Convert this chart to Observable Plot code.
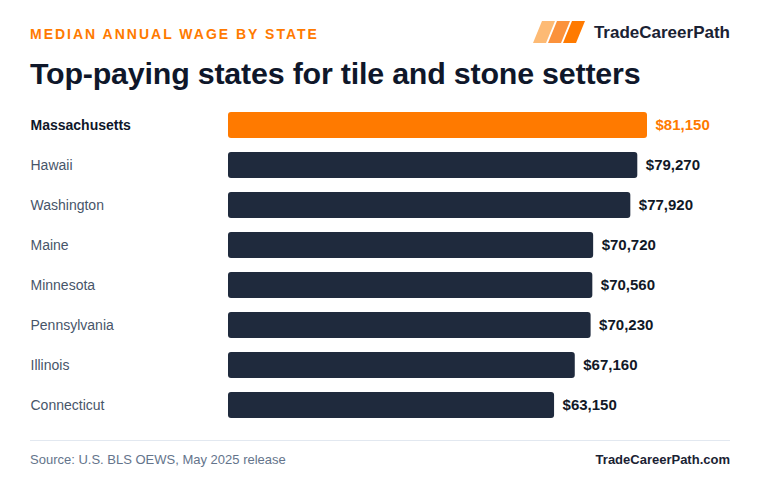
<!DOCTYPE html>
<html>
<head>
<meta charset="utf-8">
<script src="https://cdn.jsdelivr.net/npm/d3@7"></script>
<script src="https://cdn.jsdelivr.net/npm/@observablehq/plot@0.6"></script>
<style>
  html, body { margin: 0; padding: 0; background: #ffffff; }
  body { width: 760px; height: 496px; position: relative; overflow: hidden;
         font-family: "Liberation Sans", Arial, sans-serif; }
  .kicker { position: absolute; left: 30px; top: 26px; font-size: 14px; font-weight: 700;
            letter-spacing: 2px; color: #ff7a00; }
  .brand { position: absolute; right: 30px; top: 20px; height: 26px; display: flex; align-items: center; }
  .brand span { font-size: 17px; font-weight: 700; color: #1a2233; margin-left: 7px; }
  h1 { position: absolute; left: 30px; top: 56px; margin: 0; font-size: 30.4px; font-weight: 700;
       color: #0f172a; letter-spacing: -0.2px; }
  #chart { position: absolute; left: 0; top: 100px; }
  .rule { position: absolute; left: 30px; width: 700px; top: 440px; height: 1px; background: #e2e8f0; }
  .source { position: absolute; left: 30px; top: 452px; font-size: 13px; color: #64748b; }
  .site { position: absolute; right: 30px; top: 452px; font-size: 13px; font-weight: 700; color: #1a2233; }
</style>
</head>
<body>
<div class="kicker">MEDIAN ANNUAL WAGE BY STATE</div>
<div class="brand">
  <svg width="54" height="24" viewBox="0 0 54 24">
    <polygon points="9,0 22,0 13,22 0,22" fill="#fdba74"/>
    <polygon points="24,0 37,0 28,22 15,22" fill="#fb923c"/>
    <polygon points="39,0 52,0 43,22 30,22" fill="#ff7a00"/>
  </svg>
  <span>TradeCareerPath</span>
</div>
<h1>Top-paying states for tile and stone setters</h1>
<div id="chart"></div>
<div class="rule"></div>
<div class="source">Source: U.S. BLS OEWS, May 2025 release</div>
<div class="site">TradeCareerPath.com</div>
<script>
// Median annual wage, tile and stone setters, top states
const states = ["Massachusetts", "Hawaii", "Washington", "Maine", "Minnesota", "Pennsylvania", "Illinois", "Connecticut"];
const wages = [81150, 79270, 77920, 70720, 70560, 70230, 67160, 63150];
const highlighted = "Massachusetts";

const rows = states.map((state, i) => ({state, wage: wages[i], top: state === highlighted}));
const topRows = rows.filter(d => d.top);
const otherRows = rows.filter(d => !d.top);
const fmt = d3.format("$,");

const ORANGE = "#ff7a00";
const NAVY = "#1f2a3d";

// State names sit in the left margin, starting at x = 30
const stateLabel = (data, options) => Plot.text(data, {
  y: "state",
  frameAnchor: "left",
  text: "state",
  textAnchor: "start",
  dx: -198,
  fontSize: 14,
  ...options
});

const chart = Plot.plot({
  width: 760,
  height: 330,
  marginLeft: 228,
  marginRight: 113,
  marginTop: 5,
  marginBottom: 5,
  style: {fontFamily: "'Liberation Sans', Arial, sans-serif", background: "transparent"},
  x: {domain: [0, d3.max(wages)], axis: null},
  y: {domain: states, axis: null, paddingInner: 0.35, paddingOuter: 0.175},
  marks: [
    Plot.barX(rows, {
      y: "state", x: "wage",
      fill: d => d.top ? ORANGE : NAVY,
      rx: 3
    }),
    Plot.text(rows, {
      y: "state", x: "wage",
      text: d => fmt(d.wage),
      textAnchor: "start", dx: 8,
      fontSize: 15, fontWeight: 700,
      fill: d => d.top ? ORANGE : "#111827"
    }),
    stateLabel(otherRows, {fill: "#475569"}),
    stateLabel(topRows, {fill: "#0f172a", fontWeight: 700})
  ]
});
document.getElementById("chart").appendChild(chart);
</script>
</body>
</html>
